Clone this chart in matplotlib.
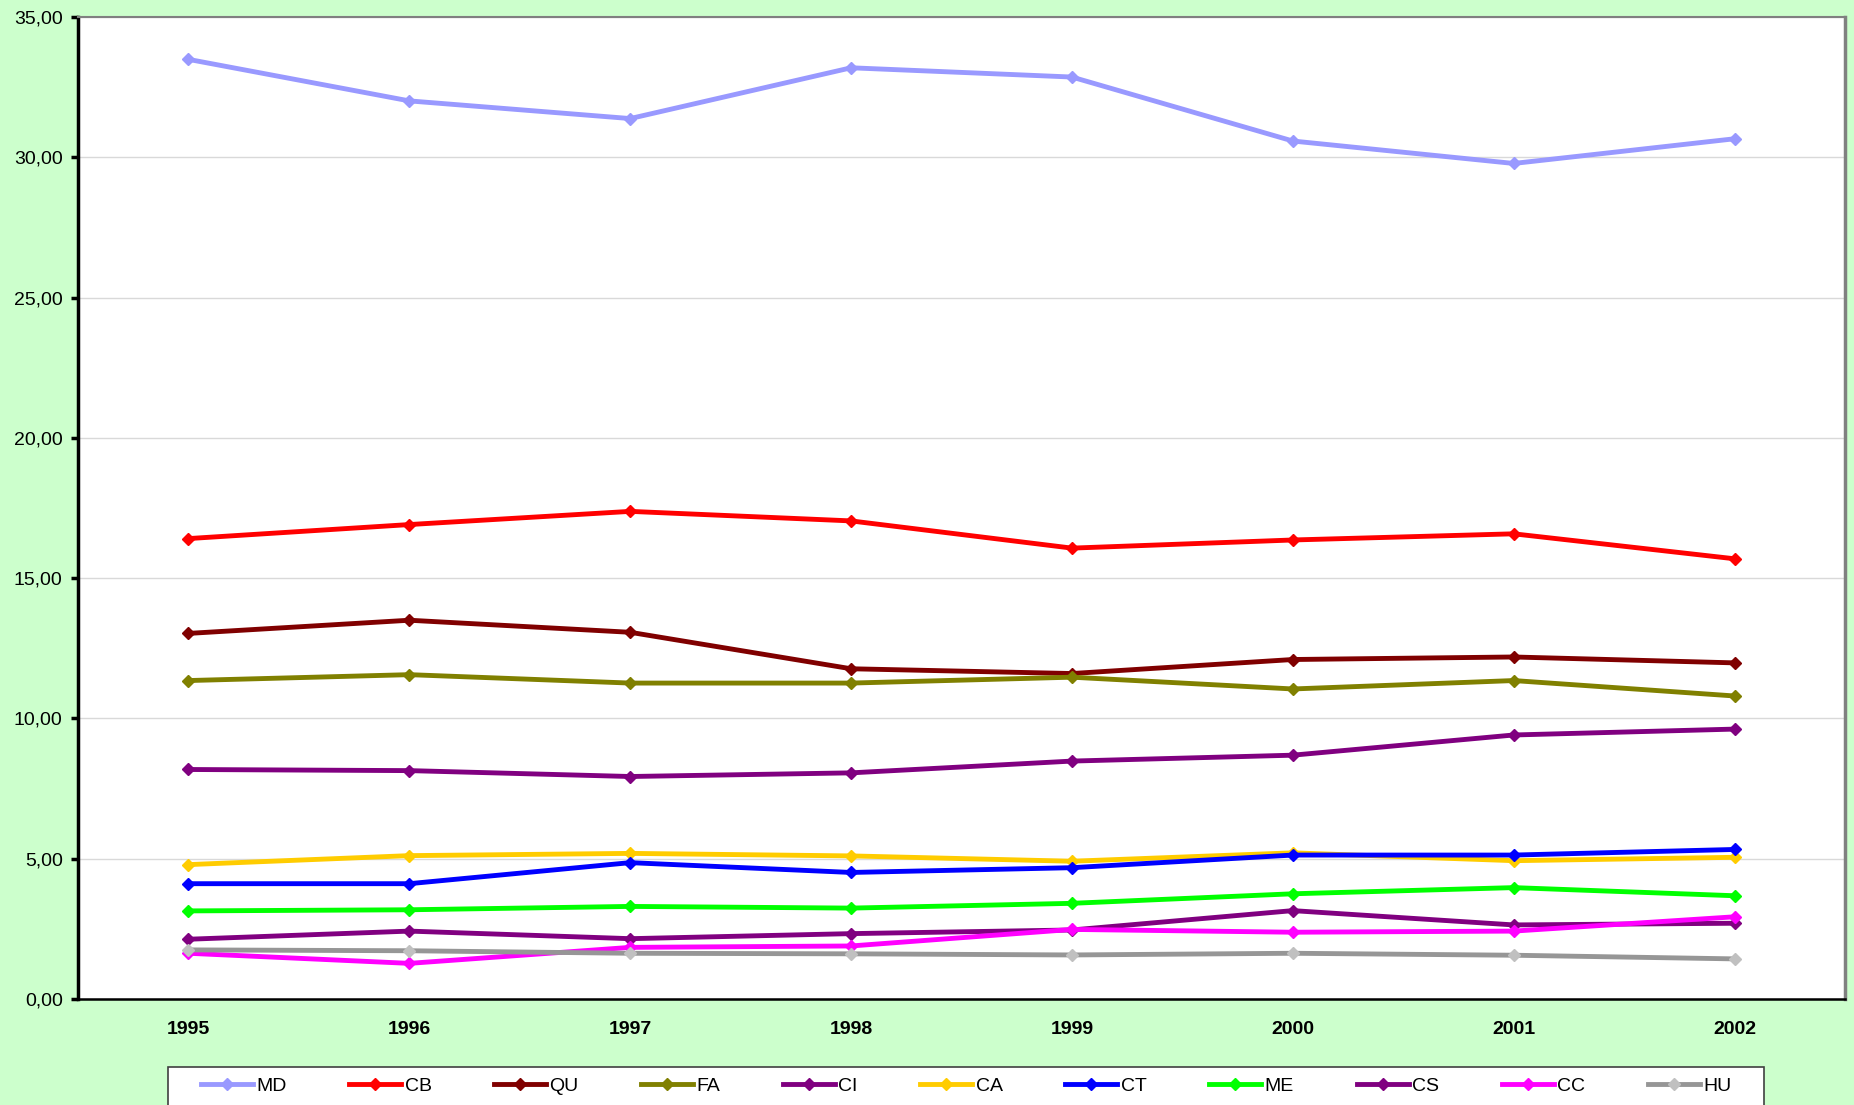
import matplotlib
matplotlib.use("Agg")
import matplotlib.pyplot as plt
from matplotlib.ticker import FuncFormatter
from matplotlib.patches import Rectangle

plt.rcParams['font.family'] = ['Liberation Sans', 'DejaVu Sans']

years = ['1995', '1996', '1997', '1998', '1999', '2000', '2001', '2002']
series_names = ['MD', 'CB', 'QU', 'FA', 'CI', 'CA', 'CT', 'ME', 'CS', 'CC', 'HU']

MD = [33.49, 32.01, 31.38, 33.19, 32.86, 30.58, 29.78, 30.66]
CB = [16.41, 16.91, 17.38, 17.04, 16.07, 16.36, 16.58, 15.69]
QU = [13.03, 13.50, 13.07, 11.77, 11.60, 12.10, 12.19, 11.98]
FA = [11.35, 11.56, 11.26, 11.26, 11.47, 11.05, 11.35, 10.80]
CI = [8.18, 8.14, 7.93, 8.06, 8.48, 8.69, 9.41, 9.62]
CA = [4.79, 5.11, 5.19, 5.10, 4.91, 5.21, 4.93, 5.05]
CT = [4.11, 4.11, 4.86, 4.51, 4.68, 5.13, 5.13, 5.33]
ME = [3.14, 3.18, 3.30, 3.24, 3.41, 3.75, 3.97, 3.68]
CS = [2.13, 2.42, 2.15, 2.33, 2.46, 3.15, 2.64, 2.70]
CC = [1.63, 1.27, 1.84, 1.89, 2.48, 2.38, 2.42, 2.93]
HU = [1.75, 1.72, 1.63, 1.61, 1.57, 1.63, 1.56, 1.43]

values = [MD, CB, QU, FA, CI, CA, CT, ME, CS, CC, HU]
line_colors = ['#9999FF', '#FF0000', '#800000', '#808000', '#800080', '#FFCC00',
               '#0000FF', '#00FF00', '#800080', '#FF00FF', '#969696']
marker_colors = ['#9999FF', '#FF0000', '#800000', '#808000', '#800080', '#FFCC00',
                 '#0000FF', '#00FF00', '#800080', '#FF00FF', '#C0C0C0']

W, H = 1854, 1105
fig = plt.figure(figsize=(W/100, H/100), dpi=100)
fig.patch.set_facecolor('#CCFFCC')
ax = fig.add_axes([78/W, 1-999/H, (1845-78)/W, (999-17)/H])
ax.set_facecolor('white')

x = list(range(len(years)))
for name, vals, lc, mc in zip(series_names, values, line_colors, marker_colors):
    ax.plot(x, vals, color=lc, lw=3.5, marker='D', ms=6.5,
            markerfacecolor=mc, markeredgecolor=mc, label=name, zorder=3)

ax.set_xlim(-0.5, len(years) - 0.5)
ax.set_ylim(0, 35)
ax.set_yticks([0, 5, 10, 15, 20, 25, 30, 35])
ax.yaxis.set_major_formatter(FuncFormatter(lambda v, p: f"{v:.2f}".replace('.', ',')))
ax.set_xticks(x)
ax.set_xticklabels(years, fontsize=14, fontweight='bold')
ax.tick_params(axis='x', length=0, pad=16)
ax.tick_params(axis='y', length=5, width=2.5, pad=6, labelsize=14, direction='out')
ax.grid(axis='y', color='#D9D9D9', lw=1, zorder=0)
ax.set_axisbelow(True)

ax.spines['left'].set_color('black')
ax.spines['left'].set_linewidth(2.5)
ax.spines['bottom'].set_color('black')
ax.spines['bottom'].set_linewidth(1.8)
ax.spines['top'].set_color('#808080')
ax.spines['top'].set_linewidth(1.5)
ax.spines['right'].set_color('#808080')
ax.spines['right'].set_linewidth(2.5)

# legend frame
frame = Rectangle((168/W, -0.05), (1764-168)/W, (1-1067/H) + 0.05,
                  transform=fig.transFigure, facecolor='white',
                  edgecolor='#404040', lw=1.2, zorder=0)
fig.patches.append(frame)

leg = fig.legend(loc='center left', bbox_to_anchor=(200.7/W, 1-1086/H),
                 ncol=len(series_names), fontsize=14, frameon=False,
                 borderpad=0, borderaxespad=0, handlelength=2.67,
                 handletextpad=0.18, columnspacing=3.22)

fig.savefig('out.png', dpi=100, facecolor=fig.get_facecolor())
